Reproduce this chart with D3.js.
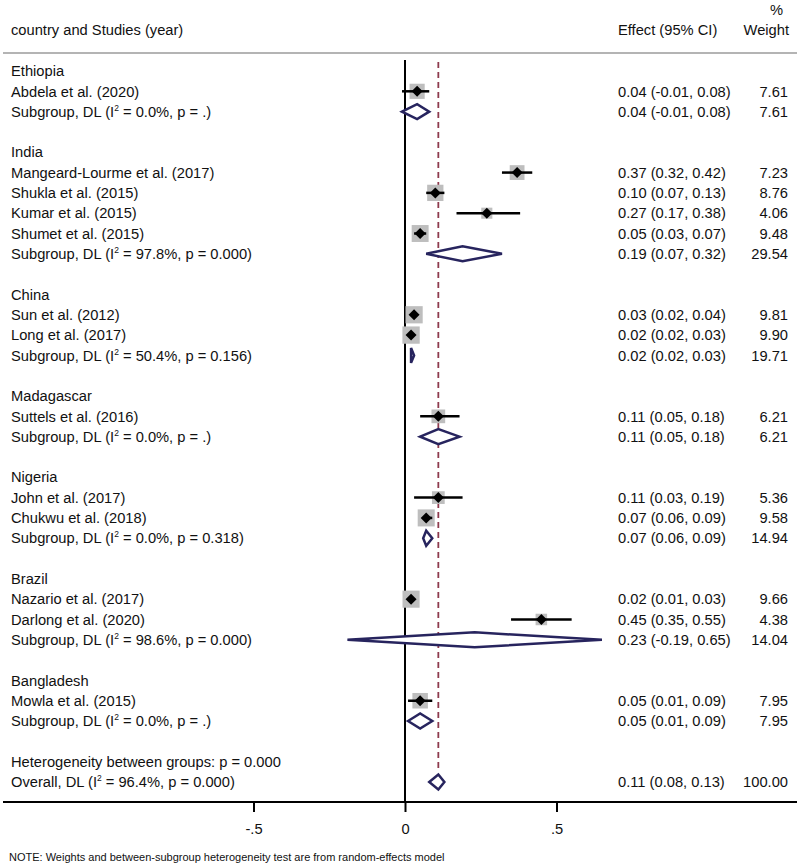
<!DOCTYPE html>
<html>
<head>
<meta charset="utf-8">
<script src="https://cdn.jsdelivr.net/npm/d3@7"></script>
<style>
  html, body { margin: 0; padding: 0; background: #fff; }
  svg text { font-family: "Liberation Sans", Arial, sans-serif; fill: #111; }
</style>
</head>
<body>
<svg id="chart" width="800" height="866"></svg>
<script>
// ---------- DATA ----------
const groups = ["Ethiopia", "India", "China", "Madagascar", "Nigeria", "Brazil", "Bangladesh"];

const studyNames = [
  "Abdela et al. (2020)",
  "Mangeard-Lourme et al. (2017)", "Shukla et al. (2015)", "Kumar et al. (2015)", "Shumet et al. (2015)",
  "Sun et al. (2012)", "Long et al. (2017)",
  "Suttels et al. (2016)",
  "John et al. (2017)", "Chukwu et al. (2018)",
  "Nazario et al. (2017)", "Darlong et al. (2020)",
  "Mowla et al. (2015)"
];
const studyGroup = [0, 1, 1, 1, 1, 2, 2, 3, 4, 4, 5, 5, 6];
const studyES    = [0.04, 0.37, 0.10, 0.27, 0.05, 0.03, 0.02, 0.11, 0.11, 0.07, 0.02, 0.45, 0.05];
const studyLo    = [-0.01, 0.32, 0.07, 0.17, 0.03, 0.02, 0.02, 0.05, 0.03, 0.06, 0.01, 0.35, 0.01];
const studyHi    = [0.08, 0.42, 0.13, 0.38, 0.07, 0.04, 0.03, 0.18, 0.19, 0.09, 0.03, 0.55, 0.09];
const studyW     = [7.61, 7.23, 8.76, 4.06, 9.48, 9.81, 9.90, 6.21, 5.36, 9.58, 9.66, 4.38, 7.95];

const subES  = [0.04, 0.19, 0.02, 0.11, 0.07, 0.23, 0.05];
const subLo  = [-0.01, 0.07, 0.02, 0.05, 0.06, -0.19, 0.01];
const subHi  = [0.08, 0.32, 0.03, 0.18, 0.09, 0.65, 0.09];
const subW   = [7.61, 29.54, 19.71, 6.21, 14.94, 14.04, 7.95];
const subI2  = ["0.0%", "97.8%", "50.4%", "0.0%", "0.0%", "98.6%", "0.0%"];
const subP   = [".", "0.000", "0.156", ".", "0.318", "0.000", "."];

const overall = { es: 0.11, lo: 0.08, hi: 0.13, w: 100.00, i2: "96.4%", p: "0.000" };
const heterogeneityP = "0.000";

const xTicks = [-0.5, 0, 0.5];
const xTickLabels = ["-.5", "0", ".5"];

// ---------- BUILD ROWS ----------
const rows = [];
groups.forEach((g, gi) => {
  rows.push({ type: "header", label: g });
  studyNames.forEach((n, i) => {
    if (studyGroup[i] === gi) rows.push({ type: "study", label: n, es: studyES[i], lo: studyLo[i], hi: studyHi[i], w: studyW[i] });
  });
  rows.push({ type: "sub", label: "Subgroup, DL", i2: subI2[gi], p: subP[gi], es: subES[gi], lo: subLo[gi], hi: subHi[gi], w: subW[gi] });
  rows.push({ type: "blank" });
});
rows.push({ type: "het", label: "Heterogeneity between groups: p = " + heterogeneityP });
rows.push({ type: "overall", label: "Overall, DL", i2: overall.i2, p: overall.p, es: overall.es, lo: overall.lo, hi: overall.hi, w: overall.w });

// ---------- SCALES ----------
const svg = d3.select("#chart");
const x = d3.scaleLinear().domain([-0.5, 0.5]).range([253.5, 556.5]);
const y = d3.scaleLinear().domain([0, rows.length - 1]).range([71, 782]);
const loc = d3.formatLocale({ decimal: ".", thousands: ",", grouping: [3], currency: ["", ""], minus: "-" });
const fmt = loc.format(".2f");
const ci = d => fmt(d.es) + " (" + fmt(d.lo) + ", " + fmt(d.hi) + ")";

const FS = 14.7;
const navy = "#27245e";
const maroon = "#8e3b4e";
const axisY = 802;

// header
svg.append("text").attr("x", 11).attr("y", 35).attr("font-size", FS).text("country and Studies (year)");
svg.append("text").attr("x", 618).attr("y", 35).attr("font-size", FS).text("Effect (95% CI)");
svg.append("text").attr("x", 789).attr("y", 35).attr("font-size", FS).attr("text-anchor", "end").text("Weight");
svg.append("text").attr("x", 783).attr("y", 15).attr("font-size", FS).attr("text-anchor", "end").text("%");
svg.append("line").attr("x1", 3).attr("x2", 797).attr("y1", 53).attr("y2", 53)
  .attr("stroke", "#b4b4b4").attr("stroke-width", 2);

// zero line
svg.append("line").attr("x1", x(0)).attr("x2", x(0)).attr("y1", 60).attr("y2", axisY)
  .attr("stroke", "#000").attr("stroke-width", 2);

// overall dashed line
svg.append("line").attr("x1", x(overall.es)).attr("x2", x(overall.es)).attr("y1", 62).attr("y2", y(rows.length - 1) - 12)
  .attr("stroke", maroon).attr("stroke-width", 1.8).attr("stroke-dasharray", "6,4");

// text labels
function labelWithI2(sel, d) {
  sel.append("tspan").text(d.label + " (I");
  sel.append("tspan").attr("font-size", 8.5).attr("dy", -6).text("2");
  sel.append("tspan").attr("dy", 6).text(" = " + d.i2 + ", p = " + d.p + ")");
}

rows.forEach((d, i) => {
  if (d.type === "blank") return;
  const cy = y(i);
  const t = svg.append("text").attr("x", 11).attr("y", cy + 5.2).attr("font-size", FS);
  if (d.type === "sub" || d.type === "overall") labelWithI2(t, d);
  else t.text(d.label);

  if (d.type === "study" || d.type === "sub" || d.type === "overall") {
    svg.append("text").attr("x", 618).attr("y", cy + 5.2).attr("font-size", FS).text(ci(d));
    svg.append("text").attr("x", 788).attr("y", cy + 5.2).attr("font-size", FS).attr("text-anchor", "end").text(fmt(d.w));
  }

  if (d.type === "study") {
    const s = 5.5 * Math.sqrt(d.w);
    svg.append("rect").attr("x", x(d.es) - s / 2).attr("y", cy - s / 2).attr("width", s).attr("height", s)
      .attr("fill", "#bebebe");
    svg.append("line").attr("x1", x(d.lo)).attr("x2", x(d.hi)).attr("y1", cy).attr("y2", cy)
      .attr("stroke", "#000").attr("stroke-width", 2.5);
    const m = 5.5;
    svg.append("path")
      .attr("d", `M${x(d.es) - m},${cy}L${x(d.es)},${cy - m}L${x(d.es) + m},${cy}L${x(d.es)},${cy + m}Z`)
      .attr("fill", "#000");
  }
  if (d.type === "sub" || d.type === "overall") {
    const h = 7.5;
    svg.append("path")
      .attr("d", `M${x(d.lo)},${cy}L${x(d.es)},${cy - h}L${x(d.hi)},${cy}L${x(d.es)},${cy + h}Z`)
      .attr("fill", "#fff").attr("stroke", navy).attr("stroke-width", 2.5).attr("stroke-linejoin", "miter");
  }
});

// x axis
svg.append("line").attr("x1", 3).attr("x2", 797).attr("y1", axisY).attr("y2", axisY)
  .attr("stroke", "#000").attr("stroke-width", 2);
const axisG = svg.append("g").attr("transform", `translate(0,${axisY})`)
  .call(d3.axisBottom(x).tickValues(xTicks).tickFormat((v, i) => xTickLabels[i]).tickSize(10).tickPadding(12));
axisG.select(".domain").remove();
axisG.selectAll(".tick line").attr("stroke", "#000").attr("stroke-width", 2);
axisG.selectAll(".tick text").attr("font-size", FS).attr("fill", "#111")
  .attr("font-family", "Liberation Sans, Arial, sans-serif");

// note
svg.append("text").attr("x", 9).attr("y", 861).attr("font-size", 11)
  .text("NOTE: Weights and between-subgroup heterogeneity test are from random-effects model");
</script>
</body>
</html>
